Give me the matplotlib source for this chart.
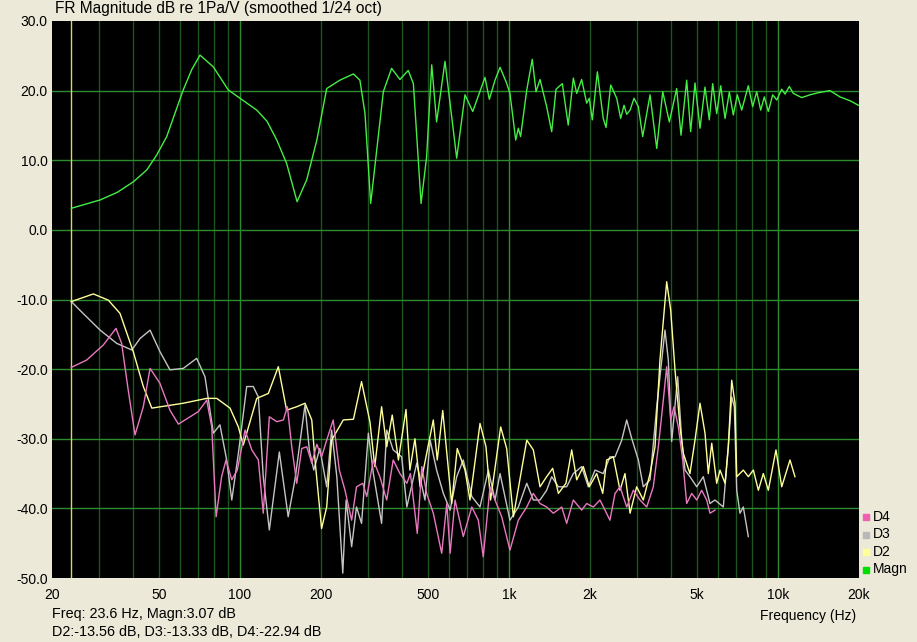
import matplotlib.pyplot as plt
from matplotlib.ticker import FixedLocator, NullFormatter

# Magnitude response (green)
magn_f = [23.6, 30.2, 35, 40.1, 45, 49, 53.4, 57, 61.5, 66.1, 71, 79.6, 90.4, 100, 115.4,
          126, 137, 149, 163, 177, 193, 210, 235, 264, 279, 291.5, 306, 341, 366, 393,
          422, 441, 471, 494, 516, 538, 578, 639, 686, 733, 814, 845, 887, 926, 980, 1008,
          1059, 1083, 1104, 1164, 1220, 1260, 1304, 1380, 1441, 1495, 1578, 1660, 1734,
          1785, 1862, 1944, 1988, 2040, 2130, 2240, 2294, 2388, 2514, 2600, 2676, 2738,
          2818, 2915, 3025, 3140, 3344, 3541, 3728, 3944, 4200, 4358, 4576, 4735, 4913,
          5128, 5353, 5553, 5716, 5916, 6124, 6354, 6592, 6820, 7058, 7328, 7754, 8050,
          8332, 8622, 8892, 9204, 9554, 9892, 10320, 10620, 11016, 11400, 12250, 13150,
          14120, 15600, 16990, 18520, 19890]
magn_db = [3.1, 4.3, 5.4, 6.9, 8.6, 10.75, 13.4, 16.5, 20.1, 23.0, 25.1, 23.4, 20.1, 18.9,
           17.2, 15.6, 12.9, 9.55, 4.05, 7.2, 12.9, 20.3, 21.5, 22.4, 21.5, 16.7, 3.8,
           19.85, 23.2, 21.6, 22.9, 21.0, 3.8, 10.5, 23.7, 15.5, 24.2, 10.3, 19.4, 17.0,
           21.9, 18.75, 21.5, 23.35, 21.05, 19.6, 12.9, 14.6, 13.4, 20.1, 24.5, 19.85,
           21.6, 17.7, 14.1, 20.2, 21.0, 15.05, 21.8, 19.6, 21.6, 18.2, 18.9, 15.8, 22.7,
           16.0, 14.7, 20.8, 18.9, 16.0, 17.9, 16.6, 17.2, 18.9, 17.7, 13.4, 19.4, 11.7,
           19.85, 15.5, 20.3, 13.6, 21.5, 14.1, 21.1, 14.6, 20.5, 15.8, 21.0, 16.7, 20.7,
           16.0, 19.8, 16.5, 19.4, 17.2, 20.7, 17.7, 19.85, 17.2, 19.1, 17.0, 19.4, 18.65,
           20.2, 19.5, 20.6, 19.6, 19.0, 19.4, 19.7, 20.0, 19.1, 18.55, 17.9]

# 2nd harmonic distortion (yellow)
d2_f = [23.6, 28.5, 32.4, 35.8, 40.1, 43.7, 47, 61.5, 75.2, 81.9, 91.8, 98.6, 102.8, 115.4,
        127.4, 138.8, 149, 162.5, 174.4, 184.8, 190, 201, 210, 219, 242, 264, 283, 304, 317,
        336, 351, 368, 388, 414, 428, 447, 467, 523, 541, 567, 612, 642, 686, 716, 780,
        821, 854, 931, 980, 1038, 1164, 1231, 1304, 1380, 1453, 1526, 1628, 1710, 1785,
        1888, 1988, 2118, 2230, 2307, 2442, 2586, 2698, 2818, 2982, 3156, 3344, 3489,
        3640, 3856, 3990, 4140, 4322, 4446, 4706, 4913, 5128, 5353, 5506, 5670, 5916,
        6086, 6354, 6534, 6728, 6920, 7022, 7430, 7754, 8096, 8450, 8818, 9204, 9826,
        10320, 11080, 11560]
d2_db = [-10.3, -9.2, -10.1, -12.0, -17.5, -22.5, -25.6, -24.9, -24.2, -24.2, -25.6, -28.3,
         -30.9, -24.2, -23.5, -19.65, -25.9, -25.4, -24.9, -27.3, -33.05, -42.9, -39.8,
         -30.2, -27.3, -27.2, -21.8, -27.55, -34.0, -25.4, -31.15, -26.6, -33.05, -25.8,
         -34.5, -30.0, -36.9, -27.3, -33.05, -25.95, -39.3, -31.4, -34.5, -38.8, -27.8,
         -31.15, -38.8, -28.3, -31.4, -41.2, -30.2, -31.6, -36.9, -35.45, -34.25, -37.85,
         -36.4, -31.6, -35.9, -34.0, -36.9, -35.0, -37.85, -33.05, -32.6, -37.4, -35.0,
         -40.7, -36.9, -38.8, -35.0, -31.15, -18.7, -7.45, -11.5, -20.1, -28.3, -32.1,
         -35.0, -30.2, -24.9, -29.2, -35.0, -30.65, -36.4, -34.5, -36.4, -31.15, -21.6,
         -24.9, -35.45, -34.5, -35.45, -34.5, -37.4, -35.0, -37.4, -31.6, -36.9, -33.05,
         -35.45]

# 3rd harmonic distortion (grey)
d3_f = [23.6, 26.1, 30.2, 34.8, 39.6, 42.5, 46.3, 50.4, 54.9, 61.5, 69, 74.1, 79.6, 84.2,
        89.2, 93.2, 98.6, 105.9, 112, 117, 122, 128.5, 140, 151, 160, 174.4, 181, 188, 198,
        210, 219, 229, 241, 248, 260, 271, 283, 300, 313, 336, 351, 371, 399, 417, 454,
        487, 509, 538, 570, 604, 639, 676, 727, 780, 838, 887, 926, 1008, 1083, 1164,
        1231, 1304, 1380, 1441, 1526, 1638, 1734, 1862, 1971, 2088, 2240, 2372, 2478,
        2624, 2738, 2858, 3025, 3156, 3344, 3541, 3800, 3910, 4024, 4236, 4386, 4510,
        4706, 4986, 5274, 5586, 5830, 6260, 6534, 6728, 6880, 7022, 7220, 7430, 7754]
d3_db = [-10.3, -12.0, -14.4, -16.3, -17.25, -15.6, -14.4, -17.5, -20.1, -19.9, -18.45,
         -21.1, -29.2, -28.0, -33.05, -38.8, -32.1, -22.5, -22.5, -24.0, -35.45, -43.1,
         -31.9, -41.2, -35.9, -25.15, -31.6, -34.5, -31.4, -36.9, -28.75, -35.45, -49.3,
         -38.8, -45.5, -39.8, -42.15, -29.2, -34.95, -42.15, -28.75, -31.6, -32.6, -39.8,
         -33.5, -38.8, -30.2, -34.5, -37.85, -40.25, -35.45, -33.05, -38.3, -39.8, -34.5,
         -38.8, -35.0, -41.7, -39.8, -36.4, -38.8, -38.8, -37.4, -35.45, -36.9, -36.9,
         -35.0, -34.0, -36.9, -34.5, -35.0, -32.6, -32.6, -30.2, -27.3, -29.95, -33.05,
         -36.9, -35.9, -25.4, -14.4, -18.7, -30.4, -21.1, -30.2, -34.5, -35.45, -36.9,
         -35.45, -39.3, -38.8, -39.8, -31.15, -24.0, -25.4, -37.4, -40.7, -39.8, -44.05]

# 4th harmonic distortion (pink)
d4_f = [23.6, 26.9, 31.0, 34.6, 36.3, 38.4, 40.7, 43.7, 46.3, 50.4, 54.9, 59, 65.2, 70,
        75.2, 78.5, 81.5, 85.4, 88.7, 93.2, 97.7, 104.4, 110.6, 117, 122, 128.5, 137,
        144.9, 150, 155.7, 162.5, 169.6, 177, 184.8, 193, 201, 210, 222, 234, 245.6, 260,
        271, 286, 296, 313, 331, 351, 371, 393, 417, 430, 456, 474, 494, 523, 562, 587,
        604, 630, 676, 727, 769, 802, 850, 887, 939, 1008, 1083, 1164, 1231, 1304, 1380,
        1461, 1570, 1638, 1734, 1862, 1944, 2058, 2178, 2274, 2372, 2478, 2586, 2738,
        2898, 3069, 3250, 3438, 3590, 3746, 3856, 3990, 4106, 4260, 4422, 4576, 4776,
        4986, 5202, 5430, 5586, 5830]
d4_db = [-19.75, -18.7, -16.55, -14.15, -16.3, -23.0, -29.45, -25.4, -19.9, -22.05, -25.9,
         -27.9, -26.85, -26.1, -24.45, -28.3, -41.2, -35.45, -33.05, -35.9, -34.5, -28.75,
         -31.6, -33.05, -40.7, -26.85, -27.55, -27.3, -25.4, -31.15, -36.4, -31.4, -31.15,
         -33.5, -30.8, -32.6, -30.2, -27.3, -34.5, -37.4, -41.7, -36.9, -36.4, -38.3,
         -33.05, -35.45, -38.8, -33.05, -35.0, -36.4, -35.0, -43.6, -34.0, -37.85, -40.7,
         -46.45, -39.3, -46.45, -38.8, -44.05, -39.8, -41.7, -46.95, -36.9, -38.8, -41.2,
         -46.0, -41.7, -39.8, -37.85, -39.3, -39.8, -40.7, -39.8, -42.15, -38.8, -40.25,
         -39.3, -39.8, -38.8, -40.25, -41.7, -37.85, -36.9, -39.8, -37.4, -38.8, -39.8,
         -36.9, -31.15, -24.45, -19.65, -27.3, -25.4, -28.3, -33.05, -39.3, -37.85, -38.8,
         -37.4, -38.8, -40.7, -40.25]

y_ticks = [30, 20, 10, 0, -10, -20, -30, -40, -50]
x_labels = {20: '20', 50: '50', 100: '100', 200: '200', 500: '500', 1000: '1k',
            2000: '2k', 5000: '5k', 10000: '10k', 20000: '20k'}
cursor_f = 23.6

bg = '#ece9d8'
grid_major = '#2e8a2e'
grid_minor = '#1d541d'

fig = plt.figure(figsize=(9.17, 6.42), dpi=100, facecolor=bg)
ax = fig.add_axes([52 / 917, 64 / 642, 807 / 917, 557 / 642])
ax.set_facecolor('black')
ax.set_xscale('log')
ax.set_xlim(20, 20000)
ax.set_ylim(-50, 30)

for s in ax.spines.values():
    s.set_visible(False)

# grid
for dec in [10, 100, 1000, 10000]:
    for m in range(1, 10):
        f = dec * m
        if f <= 20 or f >= 20000:
            continue
        c = grid_major if m == 1 else grid_minor
        ax.axvline(f, color=c, lw=1, zorder=1)
for yv in y_ticks[1:-1]:
    ax.axhline(yv, color=grid_major, lw=1, zorder=1)
ax.axvline(cursor_f, color='#d8d860', lw=1, zorder=2)

ax.plot(magn_f, magn_db, color='#44ee44', lw=1, zorder=5)
ax.plot(d3_f, d3_db, color='#c4c4c4', lw=1, zorder=4)
ax.plot(d2_f, d2_db, color='#ffff99', lw=1, zorder=4)
ax.plot(d4_f, d4_db, color='#e878c0', lw=1, zorder=5)

ax.xaxis.set_major_locator(FixedLocator(list(x_labels.keys())))
ax.xaxis.set_minor_locator(FixedLocator([]))
ax.xaxis.set_minor_formatter(NullFormatter())
ax.set_xticklabels(list(x_labels.values()))
ax.set_yticks(y_ticks)
ax.set_yticklabels(['%.1f' % v for v in y_ticks])
ax.tick_params(length=0, labelsize=10, colors='black', pad=3)
for lab in ax.get_xticklabels() + ax.get_yticklabels():
    lab.set_family('Liberation Sans')
ax.tick_params(axis='x', pad=7)

fig.text(55 / 917, 1 - 9 / 642, 'FR Magnitude dB re 1Pa/V (smoothed 1/24 oct)',
         family='Liberation Sans', fontsize=11.2, va='center', ha='left')
fig.text(856 / 917, 1 - 616 / 642, 'Frequency (Hz)', family='Liberation Sans',
         fontsize=10, va='center', ha='right')
fig.text(52 / 917, 1 - 614 / 642, 'Freq: 23.6 Hz, Magn:3.07 dB', family='Liberation Sans',
         fontsize=10.4, va='center', ha='left')
fig.text(52 / 917, 1 - 632 / 642, 'D2:-13.56 dB, D3:-13.33 dB, D4:-22.94 dB',
         family='Liberation Sans', fontsize=10.4, va='center', ha='left')

# legend
leg_items = [('D4', '#f060b0'), ('D3', '#b8b8b8'), ('D2', '#ffff99'), ('Magn', '#00e000')]
for i, (name, col) in enumerate(leg_items):
    yy = 1 - (517 + i * 17.5) / 642
    fig.patches.append(plt.Rectangle((863 / 917, yy - 3 / 642), 6 / 917, 6 / 642,
                                     transform=fig.transFigure, color=col))
    fig.text(873 / 917, yy, name, family='Liberation Sans', fontsize=10,
             va='center', ha='left')

fig.savefig('out.png', dpi=100, facecolor=bg)
